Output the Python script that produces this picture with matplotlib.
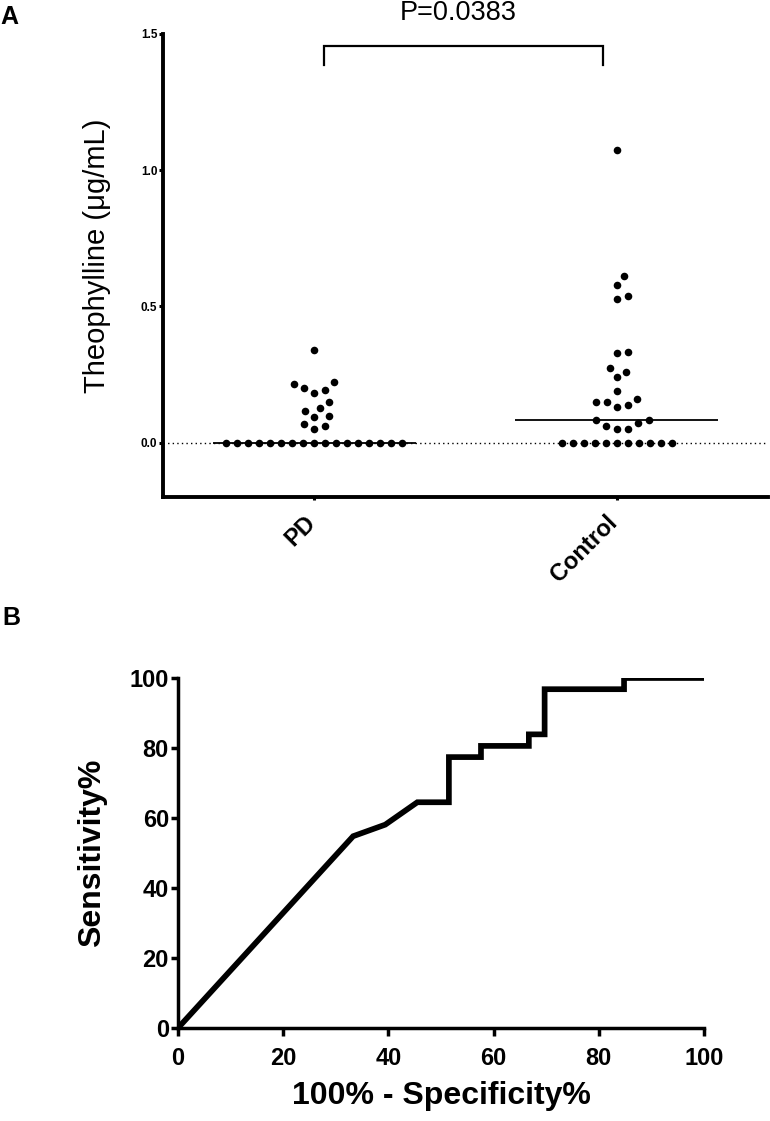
import numpy as np
import matplotlib
matplotlib.use("Agg")
import matplotlib.pyplot as plt
from matplotlib.transforms import ScaledTranslation

plt.rcParams['font.family'] = ['Liberation Sans', 'DejaVu Sans']

# ---------------- data ----------------
groups = ["PD", "Control"]
pd_values = [0, 0, 0, 0, 0, 0, 0, 0, 0, 0, 0, 0, 0, 0, 0, 0, 0,
             0.338, 0.216, 0.221, 0.194, 0.182, 0.199, 0.148, 0.127,
             0.117, 0.092, 0.099, 0.061, 0.050, 0.069]
control_values = [0, 0, 0, 0, 0, 0, 0, 0, 0, 0, 0,
                  1.074, 0.610, 0.578, 0.527, 0.539, 0.331, 0.329, 0.272,
                  0.260, 0.239, 0.190, 0.160, 0.149, 0.131, 0.138, 0.149,
                  0.082, 0.082, 0.070, 0.050, 0.050, 0.062]
p_label = "P=0.0383"
yticks_a = [0.0, 0.5, 1.0, 1.5]
ytick_labels_a = ["0.0", "0.5", "1.0", "1.5"]

roc_fpr = [0, 33.3, 39.4, 45.5, 51.5, 51.5, 57.6, 57.6, 66.7, 66.7,
           69.7, 69.7, 84.8, 84.8, 100]
roc_tpr = [0, 54.8, 58.1, 64.5, 64.5, 77.4, 77.4, 80.6, 80.6, 83.9,
           83.9, 96.8, 96.8, 100, 100]
ticks_b = [0, 20, 40, 60, 80, 100]

W, H = 770, 1121
fig = plt.figure(figsize=(W / 100, H / 100), dpi=100)

# ---------------- panel A ----------------
axA = fig.add_axes([163 / W, 1 - 497 / H, (768 - 163) / W, (497 - 34) / H])
axA.set_xlim(-0.5, 1.5)
axA.set_ylim(-0.2, 1.5)


def swarm_offsets(values, ax, diam_px):
    p0 = ax.transData.transform((0, 0))
    p1 = ax.transData.transform((1, 1))
    sx = p1[0] - p0[0]
    sy = p1[1] - p0[1]
    vals = np.asarray(values, dtype=float)
    order = np.argsort(vals, kind="stable")
    steps = np.arange(1, 400) * 0.5
    cands = np.concatenate([[0.0], np.column_stack([steps, -steps]).ravel()])
    placed = []
    offs = np.zeros(len(vals))
    for i in order:
        y = vals[i] * sy
        for c in cands:
            if all((c - px) ** 2 + (y - py) ** 2 >= diam_px ** 2 - 1e-6 for px, py in placed):
                break
        placed.append((c, y))
        offs[i] = c / sx
    return offs


axA.axhline(0, color="black", lw=1.0, ls=(0, (1, 2.3)), zorder=1)
for gi, vals in enumerate([pd_values, control_values]):
    offs = swarm_offsets(vals, axA, 11.0)
    axA.scatter(gi + offs, vals, s=30, color="black", zorder=3, linewidths=0)
    axA.hlines(np.median(vals), gi - 0.335, gi + 0.335, color="black", lw=1.3, zorder=2)

for s in ["top", "right"]:
    axA.spines[s].set_visible(False)
axA.spines["left"].set_linewidth(2.8)
axA.spines["bottom"].set_linewidth(2.8)
axA.set_yticks(yticks_a)
axA.set_yticklabels(ytick_labels_a, fontsize=8.5, fontweight="bold")
axA.tick_params(axis="y", direction="out", length=3, width=2.2, pad=1)
axA.set_xticks([0, 1])
axA.set_xticklabels(groups, fontsize=17, fontweight="bold", rotation=45, ha="right")
axA.tick_params(axis="x", direction="out", length=2.5, width=2.2, pad=7.5)
for lab in axA.get_xticklabels():
    lab.set_transform(lab.get_transform() + ScaledTranslation(4 / 72, 0, fig.dpi_scale_trans))

# bracket and p-value
axA.plot([0.031, 0.031, 0.955, 0.955], [1.386, 1.457, 1.457, 1.386],
         color="black", lw=1.6, clip_on=False, solid_joinstyle="miter")
fig.text(458 / W, 1 - 12.5 / H, p_label, fontsize=19.5, ha="center", va="center")
fig.text(97 / W, 1 - 256 / H, "Theophylline (\u03bcg/mL)", fontsize=21,
         rotation=90, ha="center", va="center")
fig.text(0 / W, 1 - 24 / H, "A", fontsize=18, fontweight="bold", ha="left", va="baseline")

# ---------------- panel B ----------------
axB = fig.add_axes([178 / W, 1 - 1028 / H, (704 - 178) / W, (1028 - 678) / H])
axB.plot(roc_fpr, roc_tpr, color="black", lw=4.1,
         solid_joinstyle="miter", solid_capstyle="butt")
axB.set_xlim(0, 100)
axB.set_ylim(0, 100)
for s in ["top", "right"]:
    axB.spines[s].set_visible(False)
axB.spines["left"].set_linewidth(2.5)
axB.spines["bottom"].set_linewidth(2.5)
axB.set_xticks(ticks_b)
axB.set_yticks(ticks_b)
axB.set_xticklabels([str(t) for t in ticks_b], fontsize=17, fontweight="bold")
axB.set_yticklabels([str(t) for t in ticks_b], fontsize=17, fontweight="bold")
axB.tick_params(axis="x", direction="out", length=5.5, width=2.5, pad=8.5)
axB.tick_params(axis="y", direction="out", length=5.0, width=2.5, pad=1.5)
axB.set_xlabel("100% - Specificity%", fontsize=23, fontweight="bold", labelpad=7.5)
fig.text(92 / W, 1 - 853 / H, "Sensitivity%", fontsize=23, fontweight="bold",
         rotation=90, ha="center", va="center")
fig.text(2 / W, 1 - 625 / H, "B", fontsize=18, fontweight="bold", ha="left", va="baseline")

fig.savefig("out.png", dpi=100)
